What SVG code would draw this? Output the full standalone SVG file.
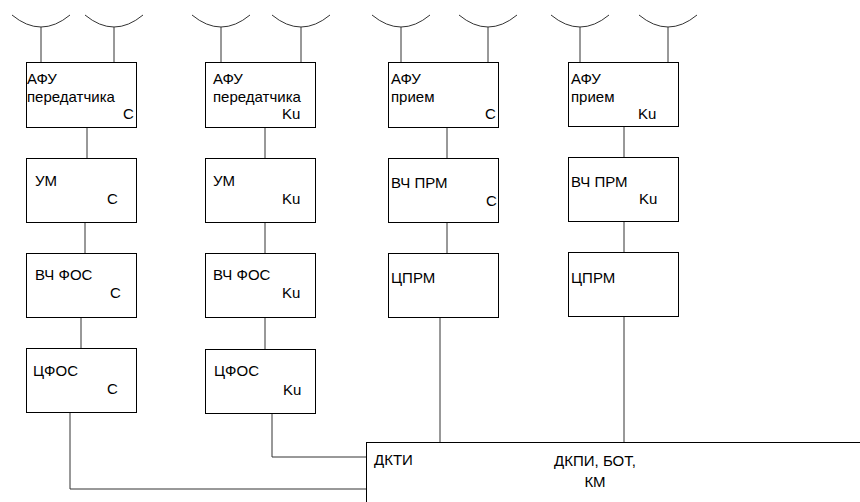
<svg xmlns="http://www.w3.org/2000/svg" width="860" height="502" viewBox="0 0 860 502">
<style>
.box{fill:#fff;stroke:#000;stroke-width:1}
.ln{fill:none;stroke:#333;stroke-width:1}
.ant{fill:none;stroke:#333;stroke-width:1}
text{font-family:"Liberation Sans",Arial,sans-serif;font-size:15px;fill:#000}
</style>
<rect width="860" height="502" fill="#fff"/>
<defs>
<path id="arc" d="M-29,15 Q0,39 29,15 M0,27 V62" class="ant"/>
</defs>
<g id="antennas">
<use href="#arc" x="41"/><use href="#arc" x="114"/>
<use href="#arc" x="221"/><use href="#arc" x="301"/>
<use href="#arc" x="401"/><use href="#arc" x="488"/>
<use href="#arc" x="580"/><use href="#arc" x="668"/>
</g>
<g id="connectors" class="ln">
<path d="M87,127 V158"/>
<path d="M85,222 V253"/>
<path d="M81,317 V348"/>
<path d="M70,412 V489 H366"/>
<path d="M265,127 V158"/>
<path d="M265,222 V253"/>
<path d="M265,317 V349"/>
<path d="M272,413 V457 H366"/>
<path d="M447,127 V158"/>
<path d="M447,222 V253"/>
<path d="M440,317 V443"/>
<path d="M624,127 V157"/>
<path d="M624,221 V252"/>
<path d="M624,316 V443"/>
</g>
<g id="afu-tx-c"><rect class="box" x="26.5" y="62.5" width="110" height="65"/><text x="27" y="84">АФУ</text><text x="27" y="102">передатчика</text><text x="123" y="119">С</text></g>
<g id="um-c"><rect class="box" x="26.5" y="158.5" width="110" height="64"/><text x="35" y="186">УМ</text><text x="107" y="204">С</text></g>
<g id="vch-fos-c"><rect class="box" x="26.5" y="253.5" width="110" height="64"/><text x="35" y="280">ВЧ ФОС</text><text x="110" y="298">С</text></g>
<g id="cfos-c"><rect class="box" x="26.5" y="348.5" width="110" height="64"/><text x="33" y="376">ЦФОС</text><text x="107" y="394">С</text></g>
<g id="afu-tx-ku"><rect class="box" x="205.5" y="62.5" width="110" height="65"/><text x="213" y="84">АФУ</text><text x="213" y="102">передатчика</text><text x="282" y="119">Ku</text></g>
<g id="um-ku"><rect class="box" x="205.5" y="158.5" width="110" height="64"/><text x="213" y="186">УМ</text><text x="282" y="204">Ku</text></g>
<g id="vch-fos-ku"><rect class="box" x="205.5" y="253.5" width="110" height="64"/><text x="213" y="280">ВЧ ФОС</text><text x="282" y="298">Ku</text></g>
<g id="cfos-ku"><rect class="box" x="205.5" y="349.5" width="110" height="64"/><text x="214" y="376">ЦФОС</text><text x="283" y="395">Ku</text></g>
<g id="afu-rx-c"><rect class="box" x="388.5" y="62.5" width="110" height="65"/><text x="391" y="84">АФУ</text><text x="391" y="102">прием</text><text x="485" y="119">С</text></g>
<g id="vch-prm-c"><rect class="box" x="388.5" y="158.5" width="110" height="64"/><text x="391" y="188">ВЧ ПРМ</text><text x="486" y="206">С</text></g>
<g id="cprm-c"><rect class="box" x="388.5" y="253.5" width="110" height="64"/><text x="391" y="283">ЦПРМ</text></g>
<g id="afu-rx-ku"><rect class="box" x="568.5" y="62.5" width="110" height="64"/><text x="571" y="84">АФУ</text><text x="571" y="102">прием</text><text x="638" y="119">Ku</text></g>
<g id="vch-prm-ku"><rect class="box" x="568.5" y="157.5" width="110" height="64"/><text x="571" y="187">ВЧ ПРМ</text><text x="639" y="204">Ku</text></g>
<g id="cprm-ku"><rect class="box" x="568.5" y="252.5" width="110" height="64"/><text x="571" y="283">ЦПРМ</text></g>
<g id="dkti"><rect class="box" x="366.5" y="442.5" width="520" height="80"/><text x="374" y="465">ДКТИ</text><text x="595" y="466" text-anchor="middle">ДКПИ, БОТ,</text><text x="595" y="487" text-anchor="middle">КМ</text></g>
</svg>
